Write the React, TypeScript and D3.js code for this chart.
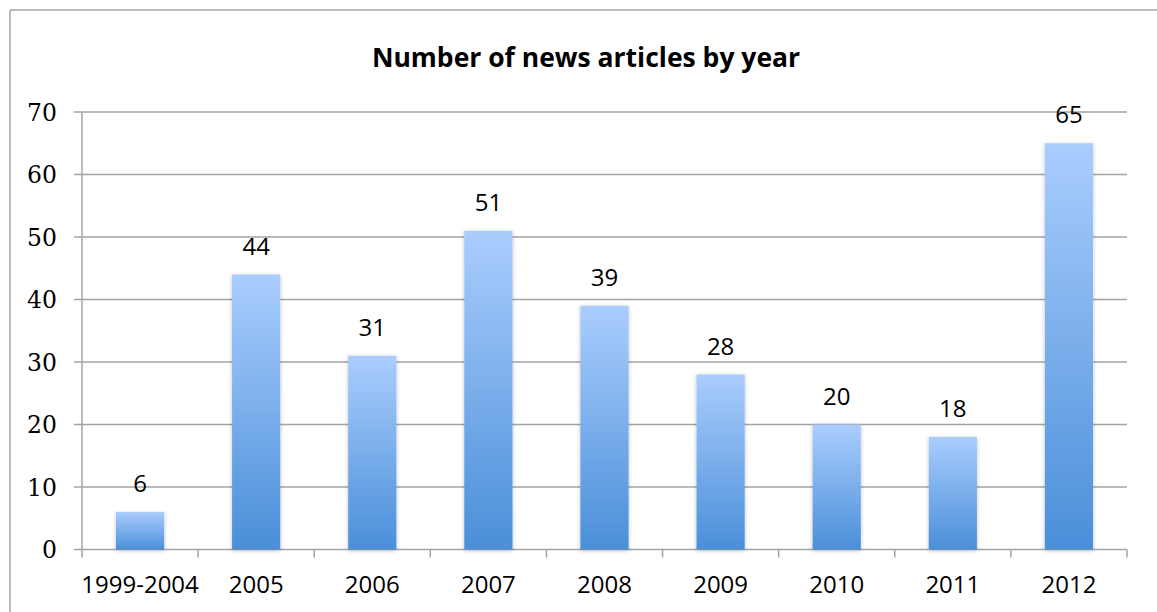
import React from "react";
import * as d3 from "d3";

const categories = ["1999-2004", "2005", "2006", "2007", "2008", "2009", "2010", "2011", "2012"];
const values = [6, 44, 31, 51, 39, 28, 20, 18, 65];
const yTicks = [0, 10, 20, 30, 40, 50, 60, 70];
const title = "Number of news articles by year";

const W = 1157;
const H = 612;
const plot = { left: 82, right: 1127, top: 112, bottom: 549.5 };

export default function App() {
  const x = d3.scaleBand<string>().domain(categories).range([plot.left, plot.right]).paddingInner(0).paddingOuter(0);
  const y = d3.scaleLinear().domain([0, 70]).range([plot.bottom, plot.top]);
  const bw = x.bandwidth() * 0.415;
  const grid = "#a3a3a3";
  const sans = "'Open Sans', sans-serif";

  return (
    <svg width={W} height={H} style={{ position: "absolute", left: 0, top: 0, background: "#fff" }}>
      <defs>
        <linearGradient id="barGrad" x1="0" y1="0" x2="0" y2="1">
          <stop offset="0" stopColor="#aacdfd" />
          <stop offset="1" stopColor="#4a8fd9" />
        </linearGradient>
        <filter id="shadow" x="-20%" y="-5%" width="140%" height="115%">
          <feGaussianBlur in="SourceAlpha" stdDeviation="2" />
          <feOffset dx="0" dy="1" result="b" />
          <feComponentTransfer>
            <feFuncA type="linear" slope="0.25" />
          </feComponentTransfer>
          <feMerge>
            <feMergeNode />
            <feMergeNode in="SourceGraphic" />
          </feMerge>
        </filter>
      </defs>
      {/* outer frame */}
      <line x1={10} x2={10} y1={10} y2={H} stroke="#a6a6a6" strokeWidth={1.5} />
      <line x1={10} x2={W} y1={10} y2={10} stroke="#a6a6a6" strokeWidth={1.5} />
      <text x={586} y={67} textAnchor="middle" fontFamily={sans} fontWeight="bold" fontSize={26.5} fill="#000">
        {title}
      </text>
      {/* gridlines and y ticks */}
      {yTicks.map((t) => (
        <g key={t}>
          <line x1={plot.left - 8} x2={plot.right} y1={y(t)} y2={y(t)} stroke={grid} strokeWidth={1.5} />
          <text x={57} y={y(t) + 8.5} textAnchor="end" fontFamily="'DejaVu Serif', serif" fontSize={23.5} fill="#000">
            {t}
          </text>
        </g>
      ))}
      {/* y axis */}
      <line x1={plot.left} x2={plot.left} y1={plot.top} y2={plot.bottom + 8} stroke={grid} strokeWidth={1.5} />
      {/* x ticks */}
      {categories.map((c) => (
        <line key={c} x1={(x(c) as number) + x.bandwidth()} x2={(x(c) as number) + x.bandwidth()} y1={plot.bottom} y2={plot.bottom + 8} stroke={grid} strokeWidth={1.5} />
      ))}
      {/* bars */}
      {categories.map((c, i) => {
        const cx = (x(c) as number) + x.bandwidth() / 2;
        return (
          <g key={c}>
            <rect x={cx - bw / 2} y={y(values[i])} width={bw} height={plot.bottom - y(values[i])} fill="url(#barGrad)" filter="url(#shadow)" />
            <text x={cx} y={y(values[i]) - 20} textAnchor="middle" fontFamily={sans} fontSize={24} fill="#000">
              {values[i]}
            </text>
            <text x={cx} y={593} textAnchor="middle" fontFamily={sans} fontSize={24} fill="#000">
              {c}
            </text>
          </g>
        );
      })}
    </svg>
  );
}
